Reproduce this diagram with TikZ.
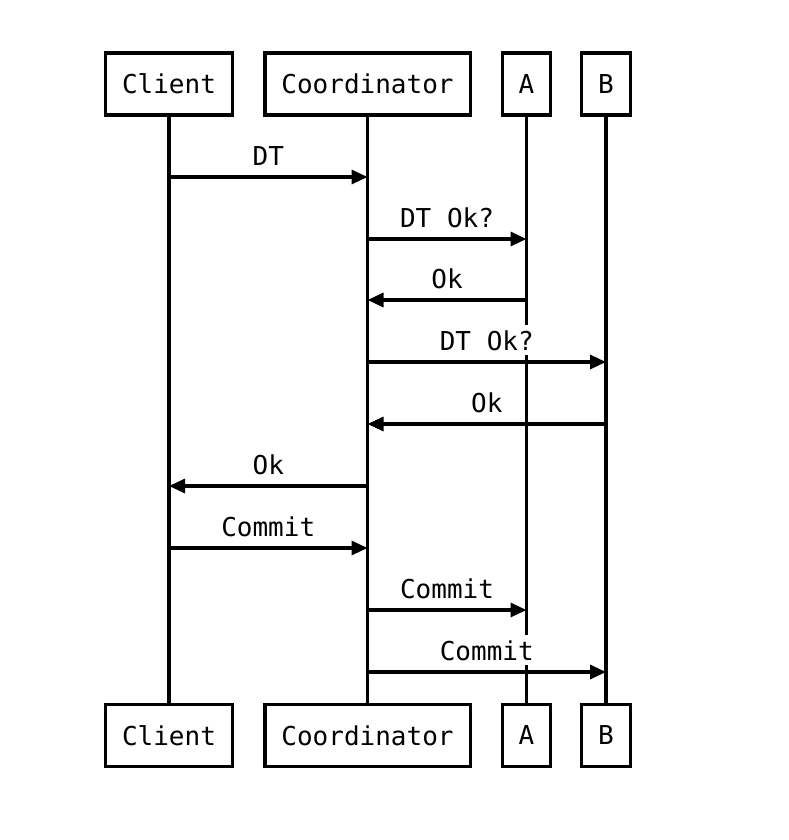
\documentclass[tikz,border=0pt]{standalone}
\usepackage{fontspec}
\setmonofont{DejaVu Sans Mono}
\usetikzlibrary{arrows.meta}
\begin{document}
\begin{tikzpicture}[x=1pt,y=-1pt,
  actor/.style={draw,line width=3.2pt,font=\ttfamily\fontsize{26}{30}\selectfont,inner xsep=16.5pt,minimum height=62pt},
  life/.style={line width=3.2pt},
  msg/.style={line width=3.2pt,-{Triangle[length=16pt,width=14pt]}},
  lbl/.style={fill=white,inner sep=0pt,font=\ttfamily\fontsize{26}{30}\selectfont,text height=25pt,text depth=5pt,anchor=south,yshift=5pt}]
\useasboundingbox (0,0) rectangle (788,840);
\node[actor] (ct) at (169,84) {Client};
\node[actor] (kt) at (367.5,84) {Coordinator};
\node[actor] (at) at (526.5,84) {A};
\node[actor] (bt) at (606,84) {B};
\node[actor] (cb) at (169,735.5) {Client};
\node[actor] (kb) at (367.5,735.5) {Coordinator};
\node[actor] (ab) at (526.5,735.5) {A};
\node[actor] (bb) at (606,735.5) {B};
\draw[life] (ct) -- (cb);
\draw[life] (kt) -- (kb);
\draw[life] (at) -- (ab);
\draw[life] (bt) -- (bb);
% message rows
\foreach \n/\y in {1/177,2/239,3/300,4/362,5/424,6/486,7/548,8/610,9/672}{
  \coordinate (c\n) at (169,\y);
  \coordinate (k\n) at (367.5,\y);
  \coordinate (a\n) at (526.5,\y);
  \coordinate (b\n) at (606,\y);
}
\draw[msg] (c1) -- node[lbl]{DT} (k1);
\draw[msg] (k2) -- node[lbl]{DT Ok?} (a2);
\draw[msg] (a3) -- node[lbl]{Ok} (k3);
\draw[msg] (k4) -- node[lbl]{DT Ok?} (b4);
\draw[msg] (b5) -- node[lbl]{Ok} (k5);
\draw[msg] (k6) -- node[lbl]{Ok} (c6);
\draw[msg] (c7) -- node[lbl]{Commit} (k7);
\draw[msg] (k8) -- node[lbl]{Commit} (a8);
\draw[msg] (k9) -- node[lbl]{Commit} (b9);
\end{tikzpicture}
\end{document}
